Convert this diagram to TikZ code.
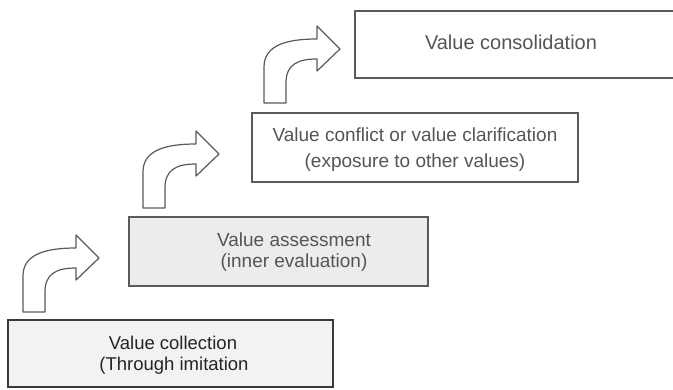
\documentclass[tikz,border=0pt]{standalone}
\usepackage{fontspec}
\setmainfont{Liberation Sans}
\definecolor{boxline}{HTML}{5A5A5A}
\definecolor{darkline}{HTML}{3A3A3A}
\definecolor{txtgrey}{HTML}{555555}
\definecolor{txtdark}{HTML}{252525}
\definecolor{paper}{HTML}{ECECEC}
\tikzset{
  stagebox/.style={draw=boxline, line width=1.3pt, inner sep=0pt, rectangle},
  stagetext/.style={anchor=base, inner sep=0pt, text=txtgrey, font=\fontsize{19}{23}\selectfont},
  pics/bentarrow/.style={code={
    \draw[draw=boxline, fill=white, line width=1.2pt, line join=round]
      (23,312) -- (23,276) .. controls (23,254) and (46,248) .. (76,248)
      -- (76,235) -- (99,258) -- (76,280) -- (76,268)
      .. controls (56,268) and (45,274) .. (45,292) -- (45,312) -- cycle;
  }}
}
\begin{document}
\begin{tikzpicture}[x=1pt,y=-1pt]
\useasboundingbox (0,0) rectangle (673,390);
\clip (0,0) rectangle (673,390);
% boxes
\node[stagebox, draw=darkline, line width=1.6pt, fill=paper!70!white, minimum width=325pt, minimum height=67pt] (b1) at (170.5,353.5) {};
\node[stagebox, fill=paper, minimum width=299pt, minimum height=69pt] (b2) at (278.5,251.5) {};
\node[stagebox, fill=white, minimum width=326pt, minimum height=69pt] (b3) at (415,147.5) {};
\node[stagebox, fill=white, minimum width=340pt, minimum height=67pt] (b4) at (525,44.5) {};
% arrows
\pic (a1) at (0,0) {bentarrow};
\pic (a2) at (120,-104) {bentarrow};
\pic (a3) at (241,-209) {bentarrow};
% texts
\node[stagetext, text=txtdark, font=\fontsize{18.5}{22}\selectfont] (t1a) at (173,350) {Value collection};
\node[stagetext, text=txtdark, font=\fontsize{18.5}{22}\selectfont] (t1b) at (174,371) {(Through imitation};
\node[stagetext] (t2a) at (294,246.5) {Value assessment};
\node[stagetext] (t2b) at (294,268) {(inner evaluation)};
\node[stagetext] (t3a) at (415,142) {Value conflict or value clarification};
\node[stagetext] (t3b) at (415,168) {(exposure to other values)};
\node[stagetext, font=\fontsize{20}{24}\selectfont] (t4) at (511,50) {Value consolidation};
\end{tikzpicture}
\end{document}
